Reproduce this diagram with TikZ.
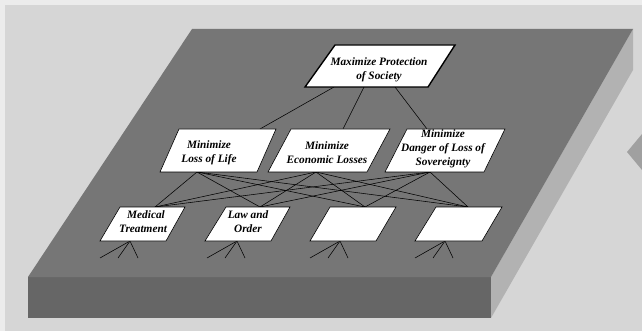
\documentclass[tikz,border=0pt]{standalone}
\usepackage{fontspec}
\setmainfont{Liberation Serif}
\definecolor{bgc}{RGB}{214,214,214}
\definecolor{marginc}{RGB}{236,236,236}
\definecolor{topc}{RGB}{118,118,118}
\definecolor{frontc}{RGB}{102,102,102}
\definecolor{sidec}{RGB}{178,178,178}
\definecolor{nextc}{RGB}{160,160,160}
\begin{document}
\begin{tikzpicture}[x=1pt,y=-1pt,
  pbox/.style={draw=black,fill=white,line width=0.6pt,line join=miter},
  ptop/.style={draw=black,fill=white,line width=1.4pt,line join=miter},
  lbl/.style={font=\bfseries\itshape\fontsize{11.3}{14}\selectfont,align=center,inner sep=0pt,text=black},
  conn/.style={draw=black,line width=0.55pt}]
\useasboundingbox (0,0) rectangle (642,331);
% background and slab
\fill[marginc] (0,0) rectangle (642,331);
\fill[bgc] (5,5) rectangle (642,331);
\fill[sidec] (633,29) -- (633,70) -- (491,318) -- (491,277) -- cycle;
\fill[frontc] (28,277) rectangle (491,318);
\fill[topc] (192,29) -- (633,29) -- (491,277) -- (28,277) -- cycle;
\fill[nextc] (627,152) -- (642,134) -- (642,170) -- cycle;
% connector end points
\coordinate (t1) at (334,87);
\coordinate (t2) at (364,87);
\coordinate (t3) at (395,87);
\coordinate (m1n) at (260,129);
\coordinate (m2n) at (343,129);
\coordinate (m3n) at (427,129);
\coordinate (m1s) at (197,172);
\coordinate (m2s) at (316,172);
\coordinate (m3s) at (430,172);
\coordinate (b1n) at (155,207);
\coordinate (b2n) at (260,207);
\coordinate (b3n) at (365,207);
\coordinate (b4n) at (468,207);
\coordinate (b1s) at (130,241);
\coordinate (b2s) at (237,241);
\coordinate (b3s) at (340,241);
\coordinate (b4s) at (445,241);
\foreach \b/\x in {1/130,2/237,3/340,4/445}{
  \coordinate (f\b a) at (\x-30,258);
  \coordinate (f\b b) at (\x-12,258);
  \coordinate (f\b c) at (\x+8,258);
}
% connectors
\draw[conn] (t1) -- (m1n);
\draw[conn] (t2) -- (m2n);
\draw[conn] (t3) -- (m3n);
\foreach \m in {1,2,3}{
  \foreach \b in {1,2,3,4}{
    \draw[conn] (m\m s) -- (b\b n);
  }
}
\foreach \b in {1,2,3,4}{
  \draw[conn] (b\b s) -- (f\b a);
  \draw[conn] (b\b s) -- (f\b b);
  \draw[conn] (b\b s) -- (f\b c);
}
% boxes
\draw[ptop] (335,45) -- (455,45) -- (428,87) -- (305,87) -- cycle;
\draw[pbox] (179,129) -- (276,129) -- (257,172) -- (160,172) -- cycle;
\draw[pbox] (291,129) -- (390,129) -- (367,172) -- (268,172) -- cycle;
\draw[pbox] (407,129) -- (505,129) -- (484,172) -- (385,172) -- cycle;
\draw[pbox] (120,207) -- (185,207) -- (166,241) -- (100,241) -- cycle;
\draw[pbox] (226,207) -- (290,207) -- (271,241) -- (205,241) -- cycle;
\draw[pbox] (330,207) -- (396,207) -- (376,241) -- (310,241) -- cycle;
\draw[pbox] (436,207) -- (502,207) -- (482,241) -- (415,241) -- cycle;
% labels
\node[lbl] (top) at (379,70) {Maximize Protection\\of Society};
\node[lbl] (mid1) at (209,153) {Minimize\\Loss of Life};
\node[lbl] (mid2) at (327,153) {Minimize\\Economic Losses};
\node[lbl] (mid3) at (443,149) {Minimize\\Danger of Loss of\\Sovereignty};
\node[lbl] (bot1) at (143,222) {\hspace*{6pt}Medical\\Treatment};
\node[lbl] (bot2) at (248,222) {Law and\\Order};
\end{tikzpicture}
\end{document}
